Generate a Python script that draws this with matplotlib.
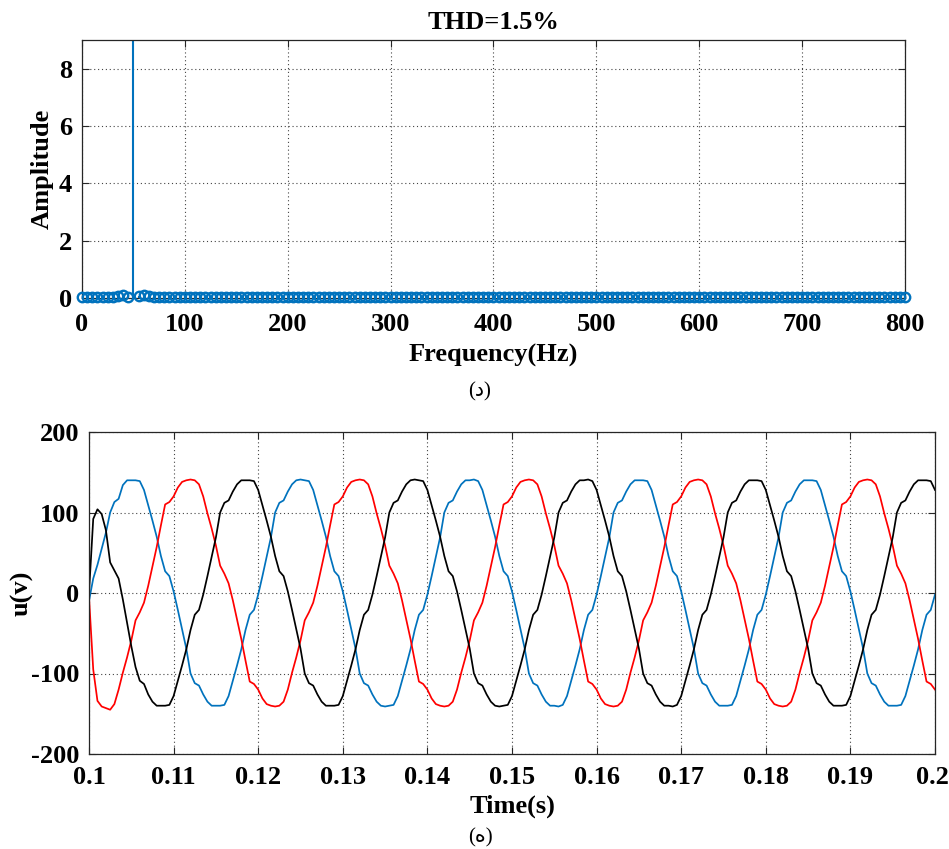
import numpy as np
import matplotlib
matplotlib.use("Agg")
import matplotlib.pyplot as plt
import matplotlib.transforms as mtransforms

# ---------------- data ----------------
# spectrum (Hz, amplitude)
freqs = np.arange(0, 805, 5)
amps = [0.02, 0.02, 0.02, 0.02, 0.03, 0.03, 0.04, 0.08, 0.10, 0.05,
        140.0,
        0.06, 0.10, 0.08, 0.04, 0.03, 0.03, 0.02, 0.02, 0.02,
        0.02, 0.02, 0.02, 0.02, 0.02, 0.02, 0.02, 0.02, 0.02, 0.02,
        0.02, 0.02, 0.02, 0.02, 0.02, 0.02, 0.02, 0.02, 0.02, 0.02,
        0.02, 0.02, 0.02, 0.02, 0.02, 0.02, 0.02, 0.02, 0.02, 0.02,
        0.02, 0.02, 0.02, 0.02, 0.02, 0.02, 0.02, 0.02, 0.02, 0.02,
        0.02, 0.02, 0.02, 0.02, 0.02, 0.02, 0.02, 0.02, 0.02, 0.02,
        0.02, 0.02, 0.02, 0.02, 0.02, 0.02, 0.02, 0.02, 0.02, 0.02,
        0.02, 0.02, 0.02, 0.02, 0.02, 0.02, 0.02, 0.02, 0.02, 0.02,
        0.02, 0.02, 0.02, 0.02, 0.02, 0.02, 0.02, 0.02, 0.02, 0.02,
        0.02, 0.02, 0.02, 0.02, 0.02, 0.02, 0.02, 0.02, 0.02, 0.02,
        0.02, 0.02, 0.02, 0.02, 0.02, 0.02, 0.02, 0.02, 0.02, 0.02,
        0.02, 0.02, 0.02, 0.02, 0.02, 0.02, 0.02, 0.02, 0.02, 0.02,
        0.02, 0.02, 0.02, 0.02, 0.02, 0.02, 0.02, 0.02, 0.02, 0.02,
        0.02, 0.02, 0.02, 0.02, 0.02, 0.02, 0.02, 0.02, 0.02, 0.02,
        0.02, 0.02, 0.02, 0.02, 0.02, 0.02, 0.02, 0.02, 0.02, 0.02,
        0.02]
amps = np.array(amps)

# time axis (s), 0.5 ms sampling
time = np.linspace(0.1, 0.2, 201)

blue_v = [
    -10, 18, 35, 55, 75, 100, 113, 117, 134, 140,
    140, 140, 139, 128, 109, 90, 70, 46, 27, 21, 2, -21, -45, -69, -100, -112, -115, -126, -135, -140,
    -140, -140, -139, -128, -109, -90, -70, -46, -27, -21, -2, 21, 45, 69, 100, 112, 115, 126, 135, 140,
    141, 140, 139, 128, 109, 90, 70, 46, 27, 21, 2, -21, -45, -69, -100, -112, -115, -126, -135, -140,
    -141, -140, -139, -128, -109, -90, -70, -46, -27, -21, -2, 21, 45, 69, 100, 112, 115, 126, 135, 140,
    140, 141, 139, 128, 109, 90, 70, 46, 27, 21, 2, -21, -45, -69, -100, -112, -115, -126, -135, -140,
    -140, -141, -139, -128, -109, -90, -70, -46, -27, -21, -2, 21, 45, 69, 100, 112, 115, 126, 135, 140,
    140, 140, 139, 128, 109, 90, 70, 46, 27, 21, 2, -21, -45, -69, -100, -112, -115, -126, -135, -140,
    -140, -140, -139, -128, -109, -90, -70, -46, -27, -21, -2, 21, 45, 69, 100, 112, 115, 126, 135, 140,
    140, 140, 139, 128, 109, 90, 70, 46, 27, 21, 2, -21, -45, -69, -100, -112, -115, -126, -135, -140,
    -140, -140, -139, -128, -109, -90, -70, -46, -27, -21, -2,
]

black_v = [
    0, 92, 104, 98, 78, 38, 28, 18, -8, -37, -66, -92, -109, -113,
    -126, -135, -140,
    -140, -140, -139, -128, -109, -90, -70, -46, -27, -21, -2, 21, 45, 69, 100, 112, 115, 126, 135, 140,
    140, 140, 139, 128, 109, 90, 70, 46, 27, 21, 2, -21, -45, -69, -100, -112, -115, -126, -135, -140,
    -140, -140, -139, -128, -109, -90, -70, -46, -27, -21, -2, 21, 45, 69, 100, 112, 115, 126, 135, 140,
    141, 140, 139, 128, 109, 90, 70, 46, 27, 21, 2, -21, -45, -69, -100, -112, -115, -126, -135, -140,
    -141, -140, -139, -128, -109, -90, -70, -46, -27, -21, -2, 21, 45, 69, 100, 112, 115, 126, 135, 140,
    140, 141, 139, 128, 109, 90, 70, 46, 27, 21, 2, -21, -45, -69, -100, -112, -115, -126, -135, -140,
    -140, -141, -139, -128, -109, -90, -70, -46, -27, -21, -2, 21, 45, 69, 100, 112, 115, 126, 135, 140,
    140, 140, 139, 128, 109, 90, 70, 46, 27, 21, 2, -21, -45, -69, -100, -112, -115, -126, -135, -140,
    -140, -140, -139, -128, -109, -90, -70, -46, -27, -21, -2, 21, 45, 69, 100, 112, 115, 126, 135, 140,
    140, 140, 139, 128,
]

red_v = [
    -5, -95, -134, -141, -143, -145, -138, -120,
    -99, -80, -59, -34, -24, -12, 9, 33, 57, 84, 110, 113, 120, 131, 138, 140,
    141, 140, 135, 120, 99, 80, 59, 34, 24, 12, -9, -33, -57, -84, -110, -113, -120, -131, -138, -140,
    -141, -140, -135, -120, -99, -80, -59, -34, -24, -12, 9, 33, 57, 84, 110, 113, 120, 131, 138, 140,
    141, 140, 135, 120, 99, 80, 59, 34, 24, 12, -9, -33, -57, -84, -110, -113, -120, -131, -138, -140,
    -141, -140, -135, -120, -99, -80, -59, -34, -24, -12, 9, 33, 57, 84, 110, 113, 120, 131, 138, 140,
    141, 140, 135, 120, 99, 80, 59, 34, 24, 12, -9, -33, -57, -84, -110, -113, -120, -131, -138, -140,
    -141, -140, -135, -120, -99, -80, -59, -34, -24, -12, 9, 33, 57, 84, 110, 113, 120, 131, 138, 140,
    141, 140, 135, 120, 99, 80, 59, 34, 24, 12, -9, -33, -57, -84, -110, -113, -120, -131, -138, -140,
    -141, -140, -135, -120, -99, -80, -59, -34, -24, -12, 9, 33, 57, 84, 110, 113, 120, 131, 138, 140,
    141, 140, 135, 120, 99, 80, 59, 34, 24, 12, -9, -33, -57, -84, -110, -113, -120,
]

freq_ticks = [0, 100, 200, 300, 400, 500, 600, 700, 800]
amp_ticks = [0, 2, 4, 6, 8]
time_ticks = [0.1, 0.11, 0.12, 0.13, 0.14, 0.15, 0.16, 0.17, 0.18, 0.19, 0.2]
time_labels = ["0.1", "0.11", "0.12", "0.13", "0.14", "0.15", "0.16", "0.17", "0.18", "0.19", "0.2"]
volt_ticks = [-200, -100, 0, 100, 200]

# ---------------- style ----------------
W, H = 949, 849
plt.rcParams['font.family'] = ['Liberation Serif', 'DejaVu Sans']
plt.rcParams['font.weight'] = 'bold'
plt.rcParams['axes.unicode_minus'] = False
MBLUE = '#0072BD'

fig = plt.figure(figsize=(W / 100, H / 100), dpi=100)


def style_axes(ax, xpad):
    ax.tick_params(direction='in', length=5, width=0.8, top=True, right=True,
                   labelsize=19, pad=7, colors='#262626')
    ax.tick_params(axis='x', pad=xpad)
    for lab in ax.get_xticklabels() + ax.get_yticklabels():
        lab.set_fontweight('bold')
        lab.set_color('black')
    for s in ax.spines.values():
        s.set_linewidth(0.9)
        s.set_color('#262626')
    ax.grid(True, linestyle=(0, (1, 2.5)), color='#444444', linewidth=0.8)
    ax.set_axisbelow(True)


# ---------- top: spectrum ----------
ax1 = fig.add_axes([82 / W, 1 - 298 / H, (905 - 82) / W, (298 - 40) / H])
ax1.vlines(freqs, 0, amps, color=MBLUE, linewidth=1.5)
mask = amps <= 9
ax1.plot(freqs[mask], amps[mask], 'o', mfc='none', mec=MBLUE, ms=6.8, mew=1.7,
         clip_on=False, zorder=5)
ax1.set_xlim(0, 800)
ax1.set_ylim(0, 9)
ax1.set_xticks(freq_ticks)
ax1.set_yticks(amp_ticks)
style_axes(ax1, 10.5)
ax1.set_title('THD=1.5%', fontsize=19, fontweight='bold', pad=8)
ax1.set_xlabel('Frequency(Hz)', fontsize=19, fontweight='bold', labelpad=6)
ax1.yaxis.set_label_coords(-0.034, 0.5)
ax1.set_ylabel('Amplitude', fontsize=19, fontweight='bold')

fig.text(480 / W, 1 - 392 / H, '(د)', ha='center', va='center', fontsize=15,
         fontweight='normal')

# ---------- bottom: waveforms ----------
ax2 = fig.add_axes([89 / W, 1 - 754 / H, (935 - 89) / W, (754 - 432) / H])
ax2.plot(time, blue_v, color=MBLUE, linewidth=1.25)
ax2.plot(time, red_v, color='#FF0000', linewidth=1.25)
ax2.plot(time, black_v, color='black', linewidth=1.25)
ax2.set_xlim(0.1, 0.2)
ax2.set_ylim(-200, 200)
ax2.set_xticks(time_ticks)
ax2.set_xticklabels(time_labels)
ax2.set_yticks(volt_ticks)
style_axes(ax2, 8.5)
# keep the last tick label inside the canvas
last = ax2.get_xticklabels()[-1]
last.set_transform(last.get_transform() +
                   mtransforms.ScaledTranslation(-3 / 100, 0, fig.dpi_scale_trans))
ax2.set_xlabel('Time(s)', fontsize=19, fontweight='bold', labelpad=4)
ax2.yaxis.set_label_coords(-0.066, 0.5)
ax2.set_ylabel('u(v)', fontsize=19, fontweight='bold')

fig.text(480 / W, 1 - 838 / H, '(ه)', ha='center', va='center', fontsize=15,
         fontweight='normal')

fig.savefig('out.png', dpi=100)
